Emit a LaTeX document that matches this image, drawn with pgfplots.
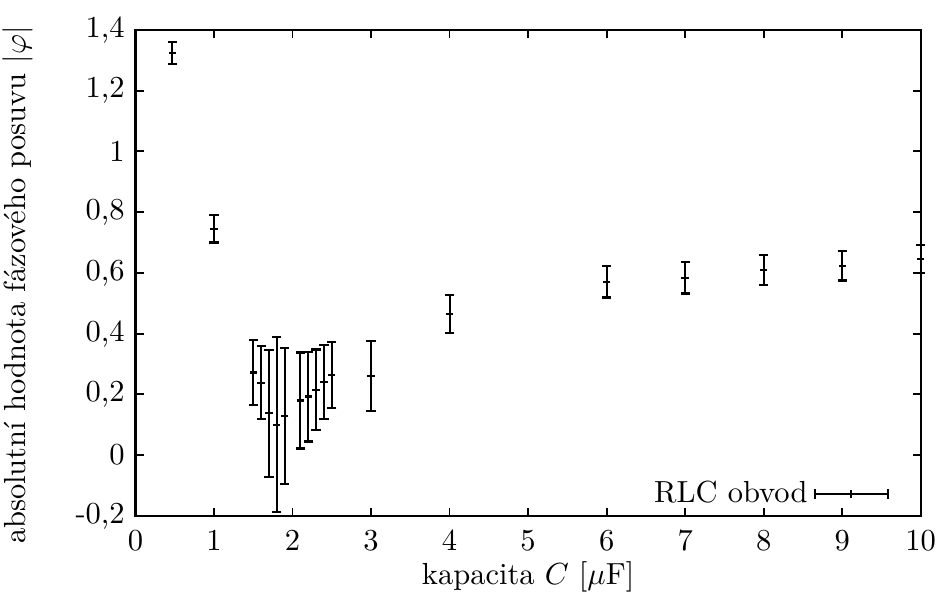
\documentclass[border=0pt]{standalone}
\usepackage{pgfplots}
\pgfplotsset{compat=1.18}
\usetikzlibrary{calc}

\pgfplotstableread{
x     y      ey
0.47  1.323  0.036
1.0   0.745  0.045
1.5   0.272  0.106
1.6   0.238  0.120
1.7   0.138  0.209
1.8   0.100  0.288
1.9   0.128  0.224
2.1   0.180  0.158
2.2   0.193  0.148
2.3   0.215  0.133
2.4   0.241  0.121
2.5   0.264  0.109
3.0   0.261  0.115
4.0   0.464  0.063
6.0   0.571  0.052
7.0   0.584  0.052
8.0   0.609  0.050
9.0   0.624  0.049
10.0  0.647  0.046
}\rlc

\begin{document}
\begin{tikzpicture}
\begin{axis}[
  scale only axis,
  width=257.4pt,
  height=159.3pt,
  xmin=0, xmax=10,
  ymin=-0.2, ymax=1.4,
  xtick={0,1,...,10},
  ytick={-0.2,0,0.2,0.4,0.6,0.8,1,1.2,1.4},
  yticklabels={{-0,2},{0},{0,2},{0,4},{0,6},{0,8},{1},{1,2},{1,4}},
  xticklabel style={yshift=-1.5pt},
  tick pos=both,
  tick align=inside,
  major tick length=2.7pt,
  tick style={line width=0.6pt, black},
  axis line style={line width=0.7pt},
  xlabel={kapacita $C$ [$\mu$F]},
  ylabel={absolutní hodnota fázového posuvu |$\varphi$|},
  xlabel style={at={(axis description cs:0.5,0)}, anchor=center, yshift=-20pt},
  ylabel style={at={(axis description cs:-0.1496,0.475)}, anchor=center},
  clip=false,
  legend plot pos=right,
  legend style={at={(axis description cs:1,0)}, anchor=south east,
    draw=none, fill=none, xshift=-7.2pt, yshift=-1.3pt},
  legend image code/.code={
    \draw[line width=0.7pt] (0pt,0pt) -- (24pt,0pt);
    \draw[line width=0.7pt] (0pt,-1.5pt) -- (0pt,1.5pt);
    \draw[line width=0.7pt] (24pt,-1.5pt) -- (24pt,1.5pt);
    \draw[line width=0.7pt] (12pt,-1.2pt) -- (12pt,1.2pt);
  },
]
\addplot[only marks, mark=-, mark size=1.2pt, line width=0.7pt,
  error bars/.cd, y dir=both, y explicit,
  error bar style={line width=0.7pt},
  error mark=-,
  error mark options={rotate=90, mark size=1.5pt, line width=0.7pt}]
  table[x=x, y=y, y error=ey] {\rlc};
\addlegendentry{RLC obvod}
\end{axis}
\pgfresetboundingbox
\path ($(current axis.south west)+(-44.4pt,-27.2pt)$) rectangle ($(current axis.north east)+(7.3pt,9.8pt)$);
\end{tikzpicture}
\end{document}
